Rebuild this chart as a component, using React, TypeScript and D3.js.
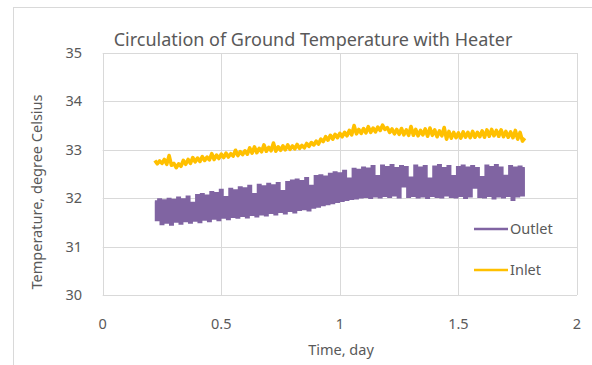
import React from 'react';
import * as d3 from 'd3';

// readings every 0.01 day, starting at day 0.22
const startDay = 0.22;
const stepDay = 0.01;

const outlet = [
  31.93, 31.55, 31.97, 31.47, 31.95, 31.5, 31.98, 31.46, 31.96, 31.52,
  32.01, 31.48, 31.97, 31.53, 32.03, 31.5, 31.9, 31.54, 32.06, 31.51,
  32.08, 31.56, 32.05, 31.53, 32.12, 31.58, 32.1, 31.55, 32.17, 31.6,
  32.02, 31.57, 32.19, 31.62, 32.16, 31.6, 32.22, 31.64, 32.2, 31.61,
  32.25, 31.66, 32.08, 31.63, 32.27, 31.67, 32.24, 31.65, 32.29, 31.7,
  32.26, 31.67, 32.31, 31.72, 32.14, 31.69, 32.33, 31.74, 32.36, 31.71,
  32.38, 31.76, 32.35, 31.78, 32.41, 31.75, 32.25, 31.81, 32.45, 31.83,
  32.47, 31.86, 32.44, 31.88, 32.5, 31.9, 32.53, 31.93, 32.51, 31.95,
  32.56, 31.97, 32.4, 31.99, 32.6, 32.0, 32.58, 32.02, 32.63, 32.03,
  32.61, 32.01, 32.66, 32.04, 32.45, 32.02, 32.67, 32.05, 32.64, 32.03,
  32.68, 32.06, 32.62, 32.02, 32.66, 32.25, 32.64, 32.03, 32.42, 32.05,
  32.67, 32.02, 32.63, 32.04, 32.66, 32.01, 32.4, 32.05, 32.65, 32.03,
  32.68, 32.02, 32.62, 32.06, 32.66, 32.03, 32.45, 32.02, 32.64, 32.05,
  32.67, 32.01, 32.63, 32.04, 32.66, 32.22, 32.62, 32.03, 32.43, 32.02,
  32.67, 32.05, 32.64, 32.0, 32.68, 32.04, 32.63, 32.02, 32.46, 32.05,
  32.66, 31.97, 32.63, 32.04, 32.65, 32.06, 32.62,
];

const inlet = [
  32.78, 32.71, 32.77, 32.72, 32.8, 32.7, 32.88, 32.68, 32.72, 32.63,
  32.71, 32.66, 32.78, 32.7, 32.8, 32.72, 32.84, 32.75, 32.83, 32.76,
  32.86, 32.78, 32.85, 32.79, 32.92, 32.8, 32.89, 32.82, 32.91, 32.84,
  32.93, 32.85, 32.92, 32.87, 32.99, 32.88, 32.96, 32.9, 32.98, 32.91,
  33.04, 32.93, 33.06, 32.94, 33.03, 32.96, 33.1, 32.97, 33.05, 32.98,
  33.14, 32.97, 33.06, 32.99, 33.08, 33.0, 33.1, 33.01, 33.08, 33.02,
  33.11, 33.03, 33.09, 33.04, 33.13, 33.07, 33.15, 33.1, 33.18, 33.12,
  33.22, 33.17, 33.27, 33.2, 33.3, 33.22, 33.32, 33.25, 33.34, 33.27,
  33.36, 33.29, 33.4, 33.31, 33.5, 33.33, 33.42, 33.34, 33.44, 33.35,
  33.48, 33.36, 33.45, 33.37, 33.47, 33.4, 33.51, 33.42, 33.46, 33.36,
  33.43, 33.33, 33.42, 33.32, 33.44, 33.31, 33.41, 33.3, 33.48, 33.3,
  33.42, 33.29, 33.4, 33.31, 33.43, 33.28, 33.45, 33.3, 33.41, 33.27,
  33.39, 33.29, 33.46, 33.22, 33.38, 33.24, 33.36, 33.25, 33.35, 33.24,
  33.37, 33.26, 33.36, 33.25, 33.38, 33.26, 33.36, 33.27, 33.39, 33.26,
  33.41, 33.28, 33.42, 33.29, 33.4, 33.28, 33.41, 33.27, 33.38, 33.26,
  33.37, 33.25, 33.4, 33.22, 33.36, 33.18, 33.24,
];

const xTicks = [0, 0.5, 1, 1.5, 2];
const yTicks = [30, 31, 32, 33, 34, 35];

const W = 592;
const H = 365;
const left = 102.7;
const right = 577;
const top = 53;
const bottom = 295;

const font = '"Noto Sans", sans-serif';
const textColor = '#595959';
const gridColor = '#d9d9d9';

const App = () => {
  const x = d3.scaleLinear().domain([0, 2]).range([left, right]);
  const y = d3.scaleLinear().domain([30, 35]).range([bottom, top]);
  const day = (i: number) => startDay + i * stepDay;

  const outletLine = d3
    .line<number>()
    .x((d, i) => x(day(i)))
    .y((d) => y(d))
    .curve(d3.curveStep);

  const inletLine = d3
    .line<number>()
    .x((d, i) => x(day(i)))
    .y((d) => y(d));

  return (
    <svg width={W} height={H} style={{ position: 'absolute', left: 0, top: 0 }} fontFamily={font}>
      <rect x={0} y={0} width={W} height={H} fill="#fff" />
      <rect x={13.5} y={7.5} width={W} height={H} fill="none" stroke={gridColor} />

      {yTicks.map((t) => (
        <line key={'gy' + t} x1={left} x2={right} y1={Math.round(y(t)) + 0.5} y2={Math.round(y(t)) + 0.5} stroke={gridColor} />
      ))}
      {xTicks.map((t) => (
        <line key={'gx' + t} x1={Math.round(x(t)) + 0.5} x2={Math.round(x(t)) + 0.5} y1={top} y2={bottom} stroke={gridColor} />
      ))}

      {yTicks.map((t) => (
        <text key={'ty' + t} x={82} y={y(t)} dy="0.35em" textAnchor="end" fontSize={14.5} fill={textColor}>
          {t}
        </text>
      ))}
      {xTicks.map((t) => (
        <text key={'tx' + t} x={x(t)} y={329} textAnchor="middle" fontSize={14.5} fill={textColor}>
          {t}
        </text>
      ))}

      <path d={outletLine(outlet) || ''} fill="none" stroke="#8064a2" strokeWidth={2.6} />
      <path d={inletLine(inlet) || ''} fill="none" stroke="#ffc000" strokeWidth={3.6} strokeLinejoin="round" />

      <text x={313} y={46} textAnchor="middle" fontSize={18} fill={textColor}>
        Circulation of Ground Temperature with Heater
      </text>
      <text x={341} y={355} textAnchor="middle" fontSize={14.5} fill={textColor}>
        Time, day
      </text>
      <text transform="translate(42,192) rotate(-90)" textAnchor="middle" fontSize={14.5} fill={textColor}>
        Temperature, degree Celsius
      </text>

      <line x1={474} x2={508} y1={229} y2={229} stroke="#8064a2" strokeWidth={2.6} />
      <text x={510} y={234} fontSize={14.5} fill={textColor}>Outlet</text>
      <line x1={474} x2={508} y1={270} y2={270} stroke="#ffc000" strokeWidth={2.6} />
      <text x={510} y={275} fontSize={14.5} fill={textColor}>Inlet</text>
    </svg>
  );
};

export default App;
